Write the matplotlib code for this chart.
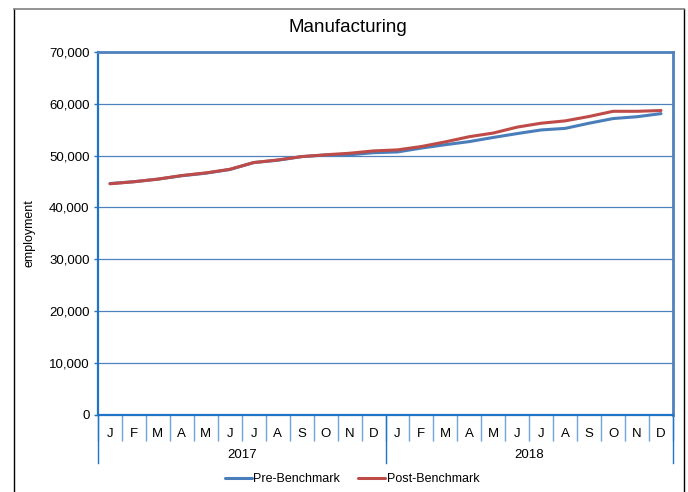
import matplotlib
matplotlib.use("Agg")
import matplotlib.pyplot as plt
from matplotlib.lines import Line2D
from matplotlib.ticker import FuncFormatter, MultipleLocator
import numpy as np

plt.rcParams['font.family'] = ['Liberation Sans', 'DejaVu Sans']

months = ["J", "F", "M", "A", "M", "J", "J", "A", "S", "O", "N", "D"] * 2
years = ["2017", "2018"]
pre_benchmark = [44600, 44950, 45450, 46100, 46600, 47300, 48650, 49100, 49800, 50100, 50150, 50550,
                 50700, 51450, 52100, 52700, 53500, 54250, 54950, 55250, 56250, 57150, 57500, 58100]
post_benchmark = [44550, 44950, 45450, 46150, 46650, 47350, 48650, 49150, 49800, 50150, 50450, 50900,
                  51100, 51750, 52650, 53650, 54350, 55500, 56250, 56700, 57550, 58550, 58550, 58700]

W, H = 688, 492
fig = plt.figure(figsize=(W / 100, H / 100), dpi=100)
ax = fig.add_axes([98 / W, 1 - 414.5 / H, (673 - 98) / W, (414.5 - 52) / H])

x = np.arange(len(months))
ax.plot(x, pre_benchmark, color='#4a7ebb', lw=2.2, label='Pre-Benchmark', solid_capstyle='round')
ax.plot(x, post_benchmark, color='#be4b48', lw=2.2, label='Post-Benchmark', solid_capstyle='round')

ax.set_xlim(-0.5, len(months) - 0.5)
ax.set_ylim(0, 70000)
ax.yaxis.set_major_locator(MultipleLocator(10000))
ax.yaxis.set_major_formatter(FuncFormatter(lambda v, p: f"{int(v):,}"))
ax.grid(axis='y', color='#4f81bd', lw=0.9)
ax.set_axisbelow(True)

for s in ['top', 'right']:
    ax.spines[s].set_color('#4f81bd')
    ax.spines[s].set_linewidth(2)
for s in ['left', 'bottom']:
    ax.spines[s].set_color('#1f74c8')
    ax.spines[s].set_linewidth(1.6)

ax.tick_params(axis='y', length=3, width=1, color='#1f74c8', labelsize=9.5, pad=3)
ax.set_xticks(x)
ax.set_xticklabels(months, fontsize=9.5)
ax.tick_params(axis='x', which='major', length=0, pad=10)
ax.set_xticks(np.arange(-0.5, len(months), 1), minor=True)
ax.tick_params(axis='x', which='minor', length=19, width=1, color='#6fa3db')

# year separators and labels
trans = ax.get_xaxis_transform()
ax_h_px = 414.5 - 52
for b in [-0.5, 11.5, 23.5]:
    ax.add_line(Line2D([b, b], [0, -(463 - 414.5) / ax_h_px], transform=trans,
                       color='#1f74c8', lw=1, clip_on=False))
for i, yr in enumerate(years):
    ax.text(i * 12 + 5.5, -(455 - 414.5) / ax_h_px, yr, transform=trans,
            ha='center', va='center', fontsize=9.5)

ax.set_ylabel('employment', fontsize=9, labelpad=10)
fig.text(348 / W, 1 - 27 / H, 'Manufacturing', ha='center', va='center', fontsize=13.5)

leg = fig.legend(loc='center', bbox_to_anchor=(352 / W, 1 - 479 / H), ncol=2, frameon=False,
                 fontsize=9, handlelength=2.2, handletextpad=0.1, columnspacing=1.4)

# outer frame
fig.add_artist(Line2D([13.5 / W, 13.5 / W], [0, 1 - 9 / H], color='black', lw=1))
fig.add_artist(Line2D([683.5 / W, 683.5 / W], [0, 1 - 9 / H], color='black', lw=1))
fig.add_artist(Line2D([13.5 / W, 683.5 / W], [1 - 9 / H, 1 - 9 / H], color='#808080', lw=1.2))

fig.savefig('out.png', dpi=100)
